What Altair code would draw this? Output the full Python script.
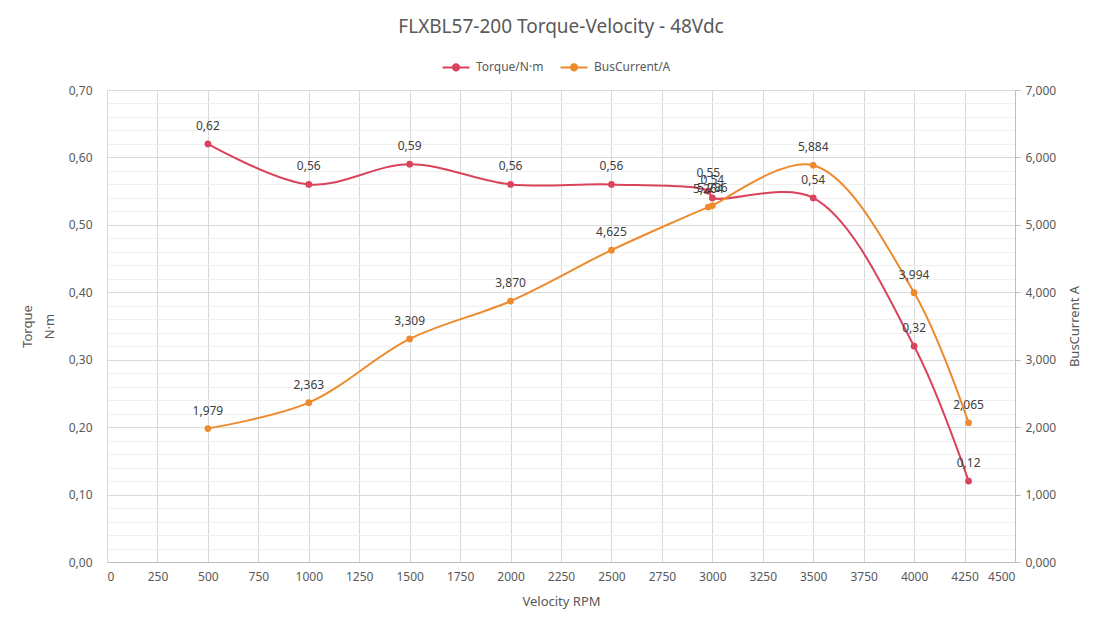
import altair as alt
import pandas as pd

# values
rpm = [500, 1000, 1500, 2000, 2500, 2980, 3000, 3500, 4000, 4270]
torque = [0.62, 0.56, 0.59, 0.56, 0.56, 0.55, 0.54, 0.54, 0.32, 0.12]
current = [1.979, 2.363, 3.309, 3.870, 4.625, 5.264, 5.286, 5.884, 3.994, 2.065]

x_ticks = list(range(0, 4501, 250))
torque_grid = [round(i * 0.02, 2) for i in range(0, 36)]
current_ticks = list(range(0, 8))

RED = "#D9435B"
ORANGE = "#EE8A2E"
TXT = "#595959"
FONT = "Noto Sans"

torque_df = pd.DataFrame({"rpm": rpm, "value": torque, "series": "Torque/N·m"})
current_df = pd.DataFrame({"rpm": rpm, "value": current, "series": "BusCurrent/A"})

color_scale = alt.Scale(domain=["Torque/N·m", "BusCurrent/A"], range=[RED, ORANGE])

legend_shape = (
    "M-1.5,0L1.5,0"
    "M0.35,0A0.35,0.35,0,1,1,-0.35,0A0.35,0.35,0,1,1,0.35,0"
    "M0.18,0A0.18,0.18,0,1,1,-0.18,0A0.18,0.18,0,1,1,0.18,0"
)

x_enc = alt.X(
    "rpm:Q",
    title="Velocity RPM",
    scale=alt.Scale(domain=[0, 4500], nice=False),
    axis=alt.Axis(
        values=x_ticks,
        format="d",
        grid=True,
        gridColor="#d9d9d9",
        ticks=False,
        domainColor="#bfbfbf",
        labelPadding=9,
        titlePadding=13,
    ),
)

major_test = "abs(datum.value * 10 - round(datum.value * 10)) < 0.001"

y_torque = alt.Y(
    "value:Q",
    title=["Torque", "N·m"],
    scale=alt.Scale(domain=[0, 0.7], nice=False),
    axis=alt.Axis(
        values=torque_grid,
        labelExpr=f"{major_test} ? replace(format(datum.value, '.2f'), '.', ',') : ''",
        grid=True,
        gridColor={"condition": {"test": major_test, "value": "#d9d9d9"}, "value": "#efefef"},
        ticks=False,
        domainColor="#d9d9d9",
        labelPadding=15,
        titlePadding=12,
        titleAngle=-90,
        titleLineHeight=22,
    ),
)

y_current = alt.Y(
    "value:Q",
    title="BusCurrent A",
    scale=alt.Scale(domain=[0, 7], nice=False),
    axis=alt.Axis(
        values=current_ticks,
        labelExpr="replace(format(datum.value, '.3f'), '.', ',')",
        grid=False,
        ticks=True,
        tickSize=5,
        tickColor="#bfbfbf",
        domainColor="#bfbfbf",
        labelPadding=5,
        titlePadding=13,
        titleAngle=-90,
        titleBaseline="top",
    ),
)

color_enc = alt.Color(
    "series:N",
    scale=color_scale,
    sort=["Torque/N·m", "BusCurrent/A"],
    legend=alt.Legend(
        title=None,
        orient="none",
        direction="horizontal",
        legendX=339,
        legendY=-33,
        symbolType=legend_shape,
        symbolSize=324,
        symbolStrokeWidth=2,
        labelOffset=10,
        columnPadding=12,
        labelFontSize=12,
        labelColor=TXT,
        labelFont=FONT,
    ),
)


def series_layer(df, y_enc, fmt):
    base = alt.Chart(df).encode(x=x_enc, y=y_enc)
    line = base.mark_line(interpolate="catmull-rom", strokeWidth=2).encode(color=color_enc)
    dots = base.mark_point(filled=True, size=45, opacity=1).encode(color=color_enc)
    labels = (
        base.transform_calculate(label=f"replace(format(datum.value, '{fmt}'), '.', ',')")
        .mark_text(dy=-18, fontSize=12, color="#404040", font=FONT)
        .encode(text="label:N")
    )
    return alt.layer(line, dots, labels)


chart = (
    alt.layer(
        series_layer(torque_df, y_torque, ".2f"),
        series_layer(current_df, y_current, ".3f"),
    )
    .resolve_scale(y="independent")
    .properties(
        width=908,
        height=472,
        padding={"left": 99, "top": 82, "right": 80, "bottom": 60},
        autosize=alt.AutoSizeParams(type="none"),
        title=alt.TitleParams(
            "FLXBL57-200 Torque-Velocity - 48Vdc",
            fontSize=19,
            font=FONT,
            fontWeight="normal",
            color=TXT,
            offset=20,
        ),
    )
    .configure_axis(
        labelFont=FONT,
        labelFontSize=12,
        labelColor=TXT,
        titleFont=FONT,
        titleFontSize=13,
        titleFontWeight="normal",
        titleColor=TXT,
    )
    .configure_view(stroke=None)
)

chart.save("out.html", embed_options={"renderer": "svg", "actions": False})
